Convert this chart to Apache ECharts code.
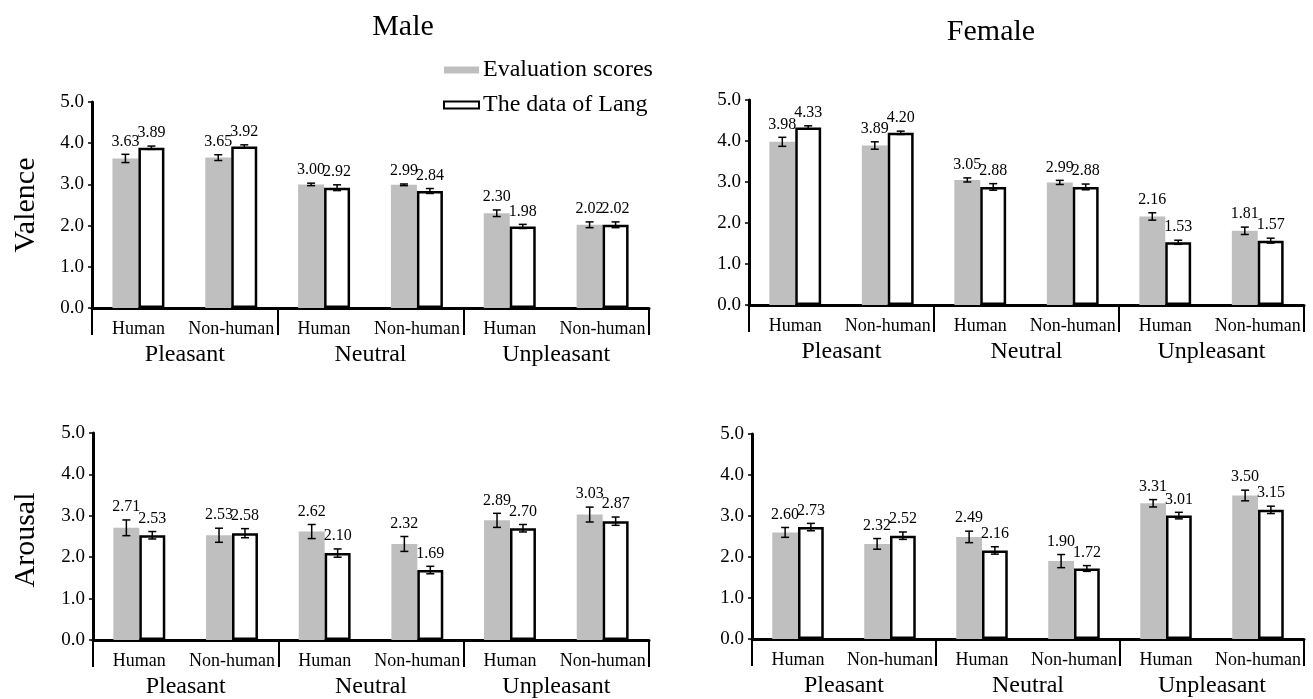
<!DOCTYPE html>
<html><head><meta charset="utf-8">
<script src="https://cdn.jsdelivr.net/npm/echarts@6/dist/echarts.min.js"></script>
<style>html,body{margin:0;padding:0;background:#fff}#c{width:1313px;height:699px}</style>
</head><body><div id="c"></div>
<script>
var categories = ['Human','Non-human','Human','Non-human','Human','Non-human'];
var groups = ['Pleasant','Neutral','Unpleasant'];
var yTicks = [0,1,2,3,4,5];
var seriesNames = ['Evaluation scores','The data of Lang'];
var panelTitles = ['Male','Female'];
var rowNames = ['Valence','Arousal'];

var maleValenceEval = [3.63,3.65,3.00,2.99,2.30,2.02];
var maleValenceEvalErr = [0.10,0.07,0.03,0.02,0.08,0.07];
var maleValenceLang = [3.89,3.92,2.92,2.84,1.98,2.02];
var maleValenceLangErr = [0.04,0.04,0.07,0.06,0.05,0.07];
var femaleValenceEval = [3.98,3.89,3.05,2.99,2.16,1.81];
var femaleValenceEvalErr = [0.11,0.09,0.05,0.05,0.09,0.09];
var femaleValenceLang = [4.33,4.20,2.88,2.88,1.53,1.57];
var femaleValenceLangErr = [0.04,0.04,0.08,0.07,0.05,0.06];
var maleArousalEval = [2.71,2.53,2.62,2.32,2.89,3.03];
var maleArousalEvalErr = [0.19,0.17,0.17,0.18,0.17,0.18];
var maleArousalLang = [2.53,2.58,2.10,1.69,2.70,2.87];
var maleArousalLangErr = [0.09,0.11,0.10,0.09,0.09,0.10];
var femaleArousalEval = [2.60,2.32,2.49,1.90,3.31,3.50];
var femaleArousalEvalErr = [0.12,0.13,0.14,0.16,0.09,0.13];
var femaleArousalLang = [2.73,2.52,2.16,1.72,3.01,3.15];
var femaleArousalLangErr = [0.09,0.09,0.09,0.07,0.08,0.09];

var FONT = "'Liberation Serif','Times New Roman',serif";
var GRAY = '#bfbfbf';
var BARW = 0.28;

var panels = [
  {grid:{left:92, top:102, width:557, height:206}, ev:maleValenceEval, evE:maleValenceEvalErr, la:maleValenceLang, laE:maleValenceLangErr},
  {grid:{left:749, top:100, width:555, height:205}, ev:femaleValenceEval, evE:femaleValenceEvalErr, la:femaleValenceLang, laE:femaleValenceLangErr},
  {grid:{left:93, top:433, width:556, height:208}, ev:maleArousalEval, evE:maleArousalEvalErr, la:maleArousalLang, laE:maleArousalLangErr},
  {grid:{left:752, top:434, width:552, height:205}, ev:femaleArousalEval, evE:femaleArousalEvalErr, la:femaleArousalLang, laE:femaleArousalLangErr}
];

var grids = [], xAxes = [], yAxes = [], series = [];
panels.forEach(function(p, i){
  grids.push(p.grid);
  xAxes.push({
    type:'category', gridIndex:i, data:categories,
    axisLine:{lineStyle:{color:'#000', width:3}},
    axisTick:{show:false},
    axisLabel:{color:'#000', fontFamily:FONT, fontSize:18, margin:12, interval:0}
  });
  xAxes.push({
    type:'category', gridIndex:i, position:'bottom', data:groups,
    axisLine:{show:false},
    axisTick:{show:true, length:27, lineStyle:{color:'#000', width:2}},
    axisLabel:{color:'#000', fontFamily:FONT, fontSize:24, margin:35, interval:0}
  });
  yAxes.push({
    type:'value', gridIndex:i, min:0, max:5, interval:1,
    splitLine:{show:false},
    axisLine:{show:true, lineStyle:{color:'#000', width:3}},
    axisTick:{show:true, length:4, lineStyle:{color:'#000', width:1.5}},
    axisLabel:{color:'#000', fontFamily:FONT, fontSize:19, margin:8,
      formatter:function(v){return v.toFixed(1);}}
  });
  series.push({
    name:seriesNames[0], type:'bar', xAxisIndex:2*i, yAxisIndex:i,
    data:p.ev, barWidth:(BARW*100)+'%', barGap:'0%',
    itemStyle:{color:GRAY}, z:2
  });
  series.push({
    name:seriesNames[1], type:'bar', xAxisIndex:2*i, yAxisIndex:i,
    data:p.la, barWidth:(BARW*100)+'%', barGap:'0%',
    itemStyle:{color:'#fff', borderColor:'#000', borderWidth:2.5}, z:2
  });
  var errData = [];
  for (var k = 0; k < categories.length; k++) {
    errData.push([k, p.ev[k], p.evE[k], 0]);
    errData.push([k, p.la[k], p.laE[k], 1]);
  }
  series.push({
    type:'custom', xAxisIndex:2*i, yAxisIndex:i, data:errData, z:5, clip:false,
    encode:{x:0, y:1},
    renderItem:function(params, api){
      var cat = api.value(0), val = api.value(1), err = api.value(2), s = api.value(3);
      var band = api.size([1,0])[0];
      var bw = band*BARW;
      var cx = api.coord([cat, val])[0] + (s === 0 ? -bw/2 : bw/2);
      var yHi = api.coord([cat, val+err])[1];
      var yLo = api.coord([cat, val-err])[1];
      var cap = 4;
      var ls = {stroke:'#000', lineWidth:1.5};
      return {type:'group', children:[
        {type:'line', shape:{x1:cx, y1:yHi, x2:cx, y2:yLo}, style:ls},
        {type:'line', shape:{x1:cx-cap, y1:yHi, x2:cx+cap, y2:yHi}, style:ls},
        {type:'line', shape:{x1:cx-cap, y1:yLo, x2:cx+cap, y2:yLo}, style:ls},
        {type:'text', x:cx, y:yHi-5, style:{text:val.toFixed(2), fill:'#000',
          font:'16px ' + FONT, textAlign:'center', textVerticalAlign:'bottom'}}
      ]};
    }
  });
});

var graphics = [
  {type:'text', x:403, y:27, style:{text:panelTitles[0], font:'30px '+FONT, fill:'#000', textAlign:'center', textVerticalAlign:'middle'}},
  {type:'text', x:991, y:32, style:{text:panelTitles[1], font:'30px '+FONT, fill:'#000', textAlign:'center', textVerticalAlign:'middle'}},
  {type:'text', x:26, y:205, rotation:Math.PI/2, style:{text:rowNames[0], font:'30px '+FONT, fill:'#000', textAlign:'center', textVerticalAlign:'middle'}},
  {type:'text', x:26, y:540, rotation:Math.PI/2, style:{text:rowNames[1], font:'30px '+FONT, fill:'#000', textAlign:'center', textVerticalAlign:'middle'}}
];

var chart = echarts.init(document.getElementById('c'), null, {renderer:'canvas'});
chart.setOption({
  animation:false,
  backgroundColor:'#fff',
  legend:{
    orient:'vertical', left:443, top:58, padding:0, itemWidth:35, itemHeight:7, itemGap:11,
    icon:'rect',
    textStyle:{color:'#000', fontFamily:FONT, fontSize:24, padding:[0,0,0,-1]},
    data:[
      {name:seriesNames[0], itemStyle:{color:GRAY, borderWidth:0}},
      {name:seriesNames[1], itemStyle:{color:'#fff', borderColor:'#000', borderWidth:2}}
    ]
  },
  grid:grids, xAxis:xAxes, yAxis:yAxes, series:series, graphic:graphics
});
</script></body></html>
